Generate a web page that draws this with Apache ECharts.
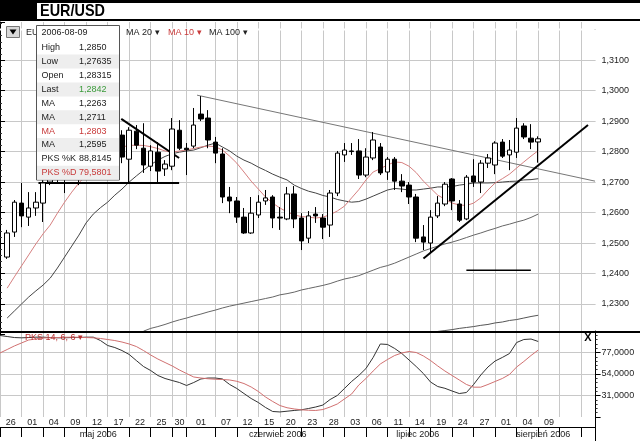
<!DOCTYPE html>
<html><head><meta charset="utf-8">
<script src="https://cdn.jsdelivr.net/npm/echarts@6/dist/echarts.min.js"></script>
<style>html,body{margin:0;padding:0;background:#fff}#c{width:640px;height:441px}</style>
</head><body><div id="c"></div>
<script>
// ---------- data ----------
const dates = [
'2006-04-26','2006-04-27','2006-04-28',
'2006-05-01','2006-05-02','2006-05-03','2006-05-04','2006-05-05',
'2006-05-08','2006-05-09','2006-05-10','2006-05-11','2006-05-12',
'2006-05-15','2006-05-16','2006-05-17','2006-05-18','2006-05-19',
'2006-05-22','2006-05-23','2006-05-24','2006-05-25','2006-05-26',
'2006-05-29','2006-05-30','2006-05-31',
'2006-06-01','2006-06-02',
'2006-06-05','2006-06-06','2006-06-07','2006-06-08','2006-06-09',
'2006-06-12','2006-06-13','2006-06-14','2006-06-15','2006-06-16',
'2006-06-19','2006-06-20','2006-06-21','2006-06-22','2006-06-23',
'2006-06-26','2006-06-27','2006-06-28','2006-06-29','2006-06-30',
'2006-07-03','2006-07-04','2006-07-05','2006-07-06','2006-07-07',
'2006-07-10','2006-07-11','2006-07-12','2006-07-13','2006-07-14',
'2006-07-17','2006-07-18','2006-07-19','2006-07-20','2006-07-21',
'2006-07-24','2006-07-25','2006-07-26','2006-07-27','2006-07-28',
'2006-07-31',
'2006-08-01','2006-08-02','2006-08-03','2006-08-04',
'2006-08-07','2006-08-08','2006-08-09',
'2006-08-10','2006-08-11','2006-08-14','2006-08-15','2006-08-16','2006-08-17','2006-08-18','2006-08-21'];

const dayTicks = ['2006-04-26','2006-05-01','2006-05-04','2006-05-09','2006-05-12','2006-05-17','2006-05-22','2006-05-25','2006-05-30',
'2006-06-01','2006-06-07','2006-06-12','2006-06-15','2006-06-20','2006-06-23','2006-06-28',
'2006-07-03','2006-07-06','2006-07-11','2006-07-14','2006-07-19','2006-07-24','2006-07-27',
'2006-08-01','2006-08-04','2006-08-09','2006-08-14','2006-08-17'];
const dayLabels = ['26','01','04','09','12','17','22','25','30','01','07','12','15','20','23','28','03','06','11','14','19','24','27','01','04','09','',''];
const monthStarts = ['2006-05-01','2006-06-01','2006-07-03','2006-08-01'];
const monthAnchors = ['2006-05-15','2006-06-19','2006-07-17','2006-08-09'];
const monthNames = ['maj 2006','czerwiec 2006','lipiec 2006','sierpień 2006'];

const opens = [null,1.2454,1.2536,1.2631,1.2585,1.2615,1.2631,1.2700,1.2745,1.2725,
1.2780,1.2810,1.2860,1.2920,1.2870,1.2890,1.2760,1.2854,1.2775,1.2867,
1.2811,1.2752,1.2798,1.2743,1.2752,1.2870,1.2811,1.2818,1.2923,1.2910,
1.2831,1.2792,1.2651,1.2638,1.2585,1.2533,1.2592,1.2638,1.2651,1.2585,
1.2579,1.2661,1.2582,1.2516,1.2595,1.2582,1.2559,1.2664,1.2789,1.2802,
1.2802,1.2723,1.2779,1.2815,1.2733,1.2775,1.2703,1.2690,1.2651,1.2520,
1.2500,1.2589,1.2628,1.2710,1.2628,1.2579,1.2720,1.2700,1.2762,1.2756,
1.2831,1.2789,1.2798,1.2884,1.2844,1.28315];
const closes = [null,1.2533,1.2634,1.2589,1.2615,1.2634,1.2697,1.2745,1.2725,1.2780,
1.2810,1.2860,1.2920,1.2870,1.2890,1.2760,1.2840,1.2782,1.2870,1.2821,
1.2756,1.2802,1.2736,1.2759,1.2874,1.2811,1.2806,1.2887,1.2907,1.2838,
1.2795,1.2651,1.2638,1.2585,1.2533,1.2598,1.2634,1.2648,1.2582,1.2582,
1.2661,1.2579,1.2507,1.2589,1.2589,1.2552,1.2664,1.2795,1.2805,1.2800,
1.2723,1.2782,1.2838,1.2730,1.2775,1.2703,1.2687,1.2651,1.2516,1.2503,
1.2585,1.2631,1.2693,1.2638,1.2575,1.2716,1.2700,1.2762,1.2779,1.2828,
1.2785,1.2805,1.2877,1.2848,1.2831,1.2842];
const highs = [null,1.2543,1.2641,1.2697,1.2667,1.2667,1.2720,1.2760,1.2780,1.2790,
1.2830,1.2880,1.2940,1.2975,1.2900,1.2910,1.2850,1.2870,1.2880,1.2887,
1.2893,1.2821,1.2831,1.2772,1.2910,1.2903,1.2828,1.2943,1.2982,1.2936,
1.2848,1.2811,1.2684,1.2651,1.2615,1.2651,1.2657,1.2674,1.2657,1.2618,
1.2684,1.2687,1.2598,1.2605,1.2618,1.2595,1.2674,1.2802,1.2828,1.2828,
1.2841,1.2811,1.2864,1.2828,1.2782,1.2782,1.2726,1.2700,1.2661,1.2559,
1.2608,1.2654,1.2700,1.2713,1.2641,1.2723,1.2775,1.2772,1.2792,1.2834,
1.2841,1.2838,1.2910,1.2893,1.2890,1.2850];
const lows = [null,1.2448,1.2520,1.2552,1.2556,1.2589,1.2569,1.2690,1.2697,1.2664,
1.2740,1.2690,1.2830,1.2850,1.2800,1.2740,1.2740,1.2762,1.2697,1.2808,
1.2730,1.2736,1.2700,1.2720,1.2739,1.2805,1.2723,1.2811,1.2900,1.2811,
1.2762,1.2631,1.2598,1.2566,1.2530,1.2530,1.2582,1.2625,1.2549,1.2543,
1.2575,1.2549,1.2477,1.2500,1.2566,1.2513,1.2520,1.2654,1.2766,1.2789,
1.2710,1.2716,1.2772,1.2723,1.2707,1.2674,1.2667,1.2628,1.2503,1.2477,
1.2470,1.2582,1.2621,1.2608,1.2569,1.2575,1.2684,1.2664,1.2746,1.2726,
1.2779,1.2739,1.2779,1.2841,1.2808,1.27635];

const ma10 = [null,1.2352,1.2389,1.2425,1.2461,1.2497,1.2530,1.2559,1.2598,1.2634,
1.2667,1.2697,1.2723,1.2749,1.2772,1.2792,1.2805,1.2815,1.2820,1.2821,
1.2820,1.2816,1.2810,1.2802,1.2798,1.2802,1.2805,1.2810,1.2815,1.2818,
1.2816,1.2805,1.2785,1.2762,1.2733,1.2703,1.2677,1.2651,1.2631,1.2615,
1.2602,1.2592,1.2587,1.2585,1.2582,1.2585,1.2593,1.2605,1.2621,1.2648,
1.2675,1.2707,1.2733,1.2744,1.2756,1.2766,1.2764,1.2752,1.2731,1.2703,
1.2680,1.2657,1.2644,1.2631,1.2625,1.2623,1.2631,1.2648,1.2674,1.2697,
1.2711,1.2726,1.2746,1.2766,1.2785,1.2803];
const ma20 = [null,1.2254,1.2277,1.2300,1.2323,1.2343,1.2362,1.2385,1.2418,1.2454,
1.2490,1.2526,1.2566,1.2595,1.2616,1.2634,1.2657,1.2677,1.2700,1.2720,
1.2739,1.2757,1.2772,1.2784,1.2793,1.2798,1.2802,1.2805,1.2813,1.2821,
1.2828,1.2815,1.2802,1.2785,1.2772,1.2762,1.2749,1.2738,1.2726,1.2716,
1.2707,1.2690,1.2679,1.2670,1.2664,1.2656,1.2651,1.2643,1.2638,1.2634,
1.2636,1.2644,1.2654,1.2664,1.2674,1.2679,1.2677,1.2674,1.2674,1.2677,
1.2680,1.2684,1.2684,1.2685,1.2690,1.2693,1.2697,1.2697,1.2697,1.2698,
1.2700,1.2702,1.2703,1.2707,1.2708,1.2711];
const ma100 = [null,null,null,null,null,null,null,null,null,null,
null,null,null,null,null,null,null,null,null,null,
1.2211,1.2220,1.2226,1.2233,1.2241,1.2248,1.2254,1.2261,1.2267,1.2274,
1.2280,1.2287,1.2293,1.2298,1.2303,1.2308,1.2313,1.2318,1.2323,1.2330,
1.2334,1.2339,1.2346,1.2351,1.2356,1.2361,1.2367,1.2375,1.2382,1.2387,
1.2393,1.2402,1.2411,1.2420,1.2426,1.2434,1.2444,1.2454,1.2464,1.2474,
1.2482,1.2490,1.2497,1.2503,1.2510,1.2518,1.2526,1.2533,1.2541,1.2548,
1.2556,1.2562,1.2569,1.2575,1.2584,1.2595];
const ma200 = [null,null,null,null,null,null,null,null,null,null,
null,null,null,null,null,null,null,null,null,null,
null,null,null,null,null,null,null,null,null,null,
null,null,null,null,null,null,null,null,null,null,
null,null,null,null,null,null,null,null,null,null,
null,null,null,null,null,null,null,null,null,null,
null,1.2210,1.2213,1.2216,1.2220,1.2223,1.2226,1.2230,1.2233,1.2238,
1.2241,1.2246,1.2249,1.2254,1.2259,1.2263];

const pksK = [95.2,94.1,93.0,92.7,93.0,93.4,93.4,93.0,92.7,92.7,
93.0,93.0,93.4,93.4,89.8,84.5,82.3,79.1,74.9,68.4,
62.0,57.7,52.4,49.2,47.0,44.9,41.7,44.9,48.7,49.7,
49.7,48.7,42.8,38.5,33.1,27.8,23.5,18.2,13.9,13.4,
14.2,15.0,15.7,17.1,18.7,20.8,26.7,31.0,38.5,46.0,
52.4,59.9,71.7,86.1,85.6,81.3,75.9,69.0,62.0,54.5,
45.4,40.6,38.7,35.8,33.1,34.2,42.8,52.9,61.5,67.9,
71.7,75.9,87.7,90.9,91.4,88.8145];
const pksD = [76.5,80.2,84.0,87.2,90.4,91.4,92.5,92.8,93.0,93.3,
93.4,93.3,93.0,92.7,92.0,90.9,89.8,88.2,86.1,83.4,
79.1,74.3,70.0,66.3,62.6,58.3,54.5,50.8,49.7,48.9,
48.4,48.1,47.6,46.2,43.8,40.1,35.3,29.4,24.6,20.3,
17.9,16.6,15.7,15.2,15.0,16.0,18.7,21.9,27.3,32.6,
42.2,49.2,57.2,64.7,69.5,73.8,76.5,78.1,77.0,73.3,
68.4,62.6,57.2,52.4,47.6,42.8,39.9,39.9,42.8,46.0,
49.2,53.5,61.5,67.4,73.8,79.5801];

// hand-drawn trend lines, [index, price] endpoints
const trendDesc = [[16.90, 1.2907], [24.96, 1.2779]];
const trendSupport = [[5.36, 1.2697], [24.96, 1.2697]];
const trendResist = [[27.46, 1.2985], [82.92, 1.2703]];
const trendRise = [[59.01, 1.2449], [81.94, 1.2887]];
const trendLow = [[64.99, 1.2411], [73.98, 1.2411]];

// ---------- build ----------
const dash = v => (v == null ? '-' : v);
const candleData = opens.map((o, i) => o == null ? '-' : [o, closes[i], lows[i], highs[i]]);
const tickIdx = new Set(dayTicks.map(d => dates.indexOf(d)));
const tickList = dayTicks.map(d => dates.indexOf(d));
const monthStartIdx = new Set(monthStarts.map(d => dates.indexOf(d)));
const monthAnchorIdx = monthAnchors.map(d => dates.indexOf(d));
const GRID = '#c8c8c8';
const FONT = '"Liberation Sans", Arial, sans-serif';
const num = v => { let s = String(v); const p = s.split('.'); if (!p[1] || p[1].length < 4) s = v.toFixed(4); return s.replace('.', ','); };

const hiddenCat = (gi) => ({type:'category', gridIndex: gi, data: dates, boundaryGap: false,
  axisLine:{show:false}, axisTick:{show:false}, axisLabel:{show:false},
  splitLine:{show:true, interval:(i)=>tickIdx.has(i), lineStyle:{color:GRID, width:1}}});

const dayRich = {};
[2,3,4].forEach(g => { dayRich['b'+g] = {padding:[0,0,0,g*7.195], fontSize:9, color:'#222', fontFamily: FONT}; });

const lastI = 75;
const G = [];
const rect = (x,y,w,h,fill,stroke,z) => ({type:'rect', z:z||100, silent:true, shape:{x,y,width:w,height:h}, style:{fill, stroke: stroke||null, lineWidth: stroke?1:0}});
const text = (x,y,t,opt,z) => ({type:'text', z:z||101, silent:true, x, y, style:Object.assign({text:t, fill:'#222', fontSize:9, fontFamily:FONT, verticalAlign:'middle', align:'left'}, opt||{})});

// mask the unlabeled top gridline (1.32) under the legend row
G.push(rect(0,28.6,594.5,2,'#fff',null,1));
// header
G.push(rect(0,0,640,21,'#fff'));
G.push(rect(0,0,640,3,'#000'));
G.push(rect(0,0,37,21,'#000'));
G.push(rect(0,19,640,2,'#000'));
G.push({type:'text', z:101, silent:true, x:40, y:11.5, scaleX:0.85, scaleY:1,
  style:{text:'EUR/USD', fill:'#000', font:'bold 17px "Liberation Sans", Arial, sans-serif', verticalAlign:'middle', align:'left'}});
// legend row
G.push(rect(6.5,26.5,13,11,'#d8d8d8','#777'));
G.push({type:'polygon', z:101, silent:true, shape:{points:[[9.5,29.5],[16.5,29.5],[13,34.5]]}, style:{fill:'#000'}});
G.push(text(26,32.5,'EUR/USD'));
G.push(text(126,32.5,'MA 20 ▾'));
G.push(text(168,32.5,'MA 10 ▾',{fill:'#c83a3a'}));
G.push(text(209,32.5,'MA 100 ▾'));
// separator between panels
G.push(rect(0,331,640,2,'#000'));
G.push(text(25,338,'PKS 14, 6, 6 ▾',{fill:'#b83030'}));
G.push(text(588,337.5,'X',{fontSize:11, fontWeight:'bold', fill:'#000', align:'center'}));
// info box
G.push(rect(36.5,25.5,83,154.5,'#fff','#555',110));
const rows = [
  ['High', num(highs[lastI]), '#222', '#222'],
  ['Low', num(lows[lastI]), '#222', '#222'],
  ['Open', num(opens[lastI]), '#222', '#222'],
  ['Last', num(closes[lastI]), '#222', '#3a9a3a'],
  ['MA', num(ma200[lastI]), '#222', '#222'],
  ['MA', num(ma20[lastI]), '#222', '#222'],
  ['MA', num(ma10[lastI]), '#c83a3a', '#c83a3a'],
  ['MA', num(ma100[lastI]), '#222', '#222'],
  ['PKS %K', num(pksK[lastI]), '#222', '#222'],
  ['PKS %D', num(pksD[lastI]), '#c83a3a', '#c83a3a']
];
G.push(text(41.5,32.5,dates[lastI],null,112));
rows.forEach((r,k) => {
  const yc = 47.7 + 13.9*k;
  if (k % 2 === 1) G.push(rect(37,yc-7,82,14,'#eeeeee',null,111));
  G.push(text(41.5,yc,r[0],{fill:r[2]},112));
  G.push(text(79,yc,r[1],{fill:r[3]},112));
});

const lineS = (name, data, color, xi, yi, w) => ({name, type:'line', xAxisIndex:xi, yAxisIndex:yi, data, symbol:'none', showSymbol:false, lineStyle:{color, width:w||1}, z:2, silent:true});

const option = {
  animation:false,
  backgroundColor:'#fff',
  grid:[
    {left:-1.6, width:597.2, top:22, height:312.5},
    {left:-1.6, width:597.2, top:331, height:86},
    {left:-1.6, width:597.2, top:417, height:10},
    {left:-1.6, width:597.2, top:427, height:14}
  ],
  xAxis:[
    hiddenCat(0),
    {type:'value', gridIndex:0, min:0, max:83, show:false},
    hiddenCat(1),
    {type:'category', gridIndex:2, data:dates, boundaryGap:false, position:'top',
     axisLine:{show:true, lineStyle:{color:'#000', width:1}},
     axisTick:{show:true, inside:true, length:10, interval:(i)=>tickIdx.has(i), lineStyle:{color:'#000'}},
     axisLabel:{show:true, inside:true, margin:1, interval:(i)=>tickIdx.has(i), align:'center',
       fontSize:9, color:'#222', fontFamily:FONT, rich:dayRich,
       formatter:(v,i)=>{ const k = tickList.indexOf(i); if (k<0 || !dayLabels[k]) return ''; const nxt = k+1<tickList.length ? tickList[k+1] : 83; return '{b'+(nxt-i)+'|'+dayLabels[k]+'}'; }},
     splitLine:{show:false}},
    {type:'category', gridIndex:3, data:dates, boundaryGap:false, position:'top',
     axisLine:{show:true, lineStyle:{color:'#000', width:1}},
     axisTick:{show:true, inside:true, length:14, interval:(i)=>monthStartIdx.has(i), lineStyle:{color:'#000'}},
     axisLabel:{show:true, inside:true, margin:3, interval:(i)=>monthAnchorIdx.indexOf(i)>=0, align:'center',
       fontSize:9, color:'#222', fontFamily:FONT,
       rich:{m:{padding:[0,0,0,10], fontSize:9, color:'#222', fontFamily:FONT}, n:{padding:[0,0,0,3], fontSize:9, color:'#222', fontFamily:FONT}},
       formatter:(v,i)=>{ const k = monthAnchorIdx.indexOf(i); if (k<0) return ''; return '{'+(k===2?'n':'m')+'|'+monthNames[k]+'}'; }},
     splitLine:{show:false}}
  ],
  yAxis:[
    {type:'value', gridIndex:0, position:'right', min:1.22, max:1.3225, interval:0.01, scale:true,
     axisLine:{show:true, lineStyle:{color:'#000'}},
     axisTick:{show:true, length:5, lineStyle:{color:'#000'}},
     minorTick:{show:true, splitNumber:5, length:2, lineStyle:{color:'#333'}},
     axisLabel:{margin:6, fontSize:9, color:'#222', fontFamily:FONT,
       formatter:v => (v > 1.3151 || v < 1.2249) ? '' : v.toFixed(4).replace('.', ',')},
     splitLine:{show:true, showMinLine:false, showMaxLine:false, lineStyle:{color:GRID}}},
    {type:'value', gridIndex:1, position:'right', min:8, max:100, interval:23,
     axisLine:{show:true, lineStyle:{color:'#000'}},
     axisTick:{show:true, length:5, lineStyle:{color:'#000'}},
     minorTick:{show:true, splitNumber:5, length:2, lineStyle:{color:'#333'}},
     axisLabel:{margin:6, fontSize:9, color:'#222', fontFamily:FONT,
       formatter:v => (v > 90 || v < 20) ? '' : v.toFixed(4).replace('.', ',')},
     splitLine:{show:true, showMinLine:false, showMaxLine:false, lineStyle:{color:GRID}}},
    {type:'value', gridIndex:2, position:'right', min:0, max:1, axisLine:{show:true, lineStyle:{color:'#000'}}, axisTick:{show:false}, axisLabel:{show:false}, splitLine:{show:false}},
    {type:'value', gridIndex:3, position:'right', min:0, max:1, axisLine:{show:true, lineStyle:{color:'#000'}}, axisTick:{show:false}, axisLabel:{show:false}, splitLine:{show:false}}
  ],
  series:[
    lineS('MA 200', ma200.map(dash), '#555', 0, 0),
    lineS('MA 100', ma100.map(dash), '#666', 0, 0),
    lineS('MA 20', ma20.map(dash), '#444', 0, 0),
    lineS('MA 10', ma10.map(dash), '#d67f7f', 0, 0),
    {type:'candlestick', xAxisIndex:0, yAxisIndex:0, data:candleData, barWidth:5, z:3, silent:true,
     itemStyle:{color:'#fff', color0:'#000', borderColor:'#000', borderColor0:'#000', borderWidth:1}},
    lineS('t1', trendDesc, '#000', 1, 0, 2),
    lineS('t2', trendSupport, '#000', 1, 0, 2),
    lineS('t3', trendResist, '#777', 1, 0, 1),
    lineS('t4', trendRise, '#000', 1, 0, 2),
    lineS('t5', trendLow, '#000', 1, 0, 1.5),
    lineS('%K', pksK, '#333', 2, 1),
    lineS('%D', pksD, '#d07070', 2, 1)
  ],
  graphic: G
};
const chart = echarts.init(document.getElementById('c'), null, {renderer:'canvas', width:640, height:441});
chart.setOption(option);
</script>
</body></html>
